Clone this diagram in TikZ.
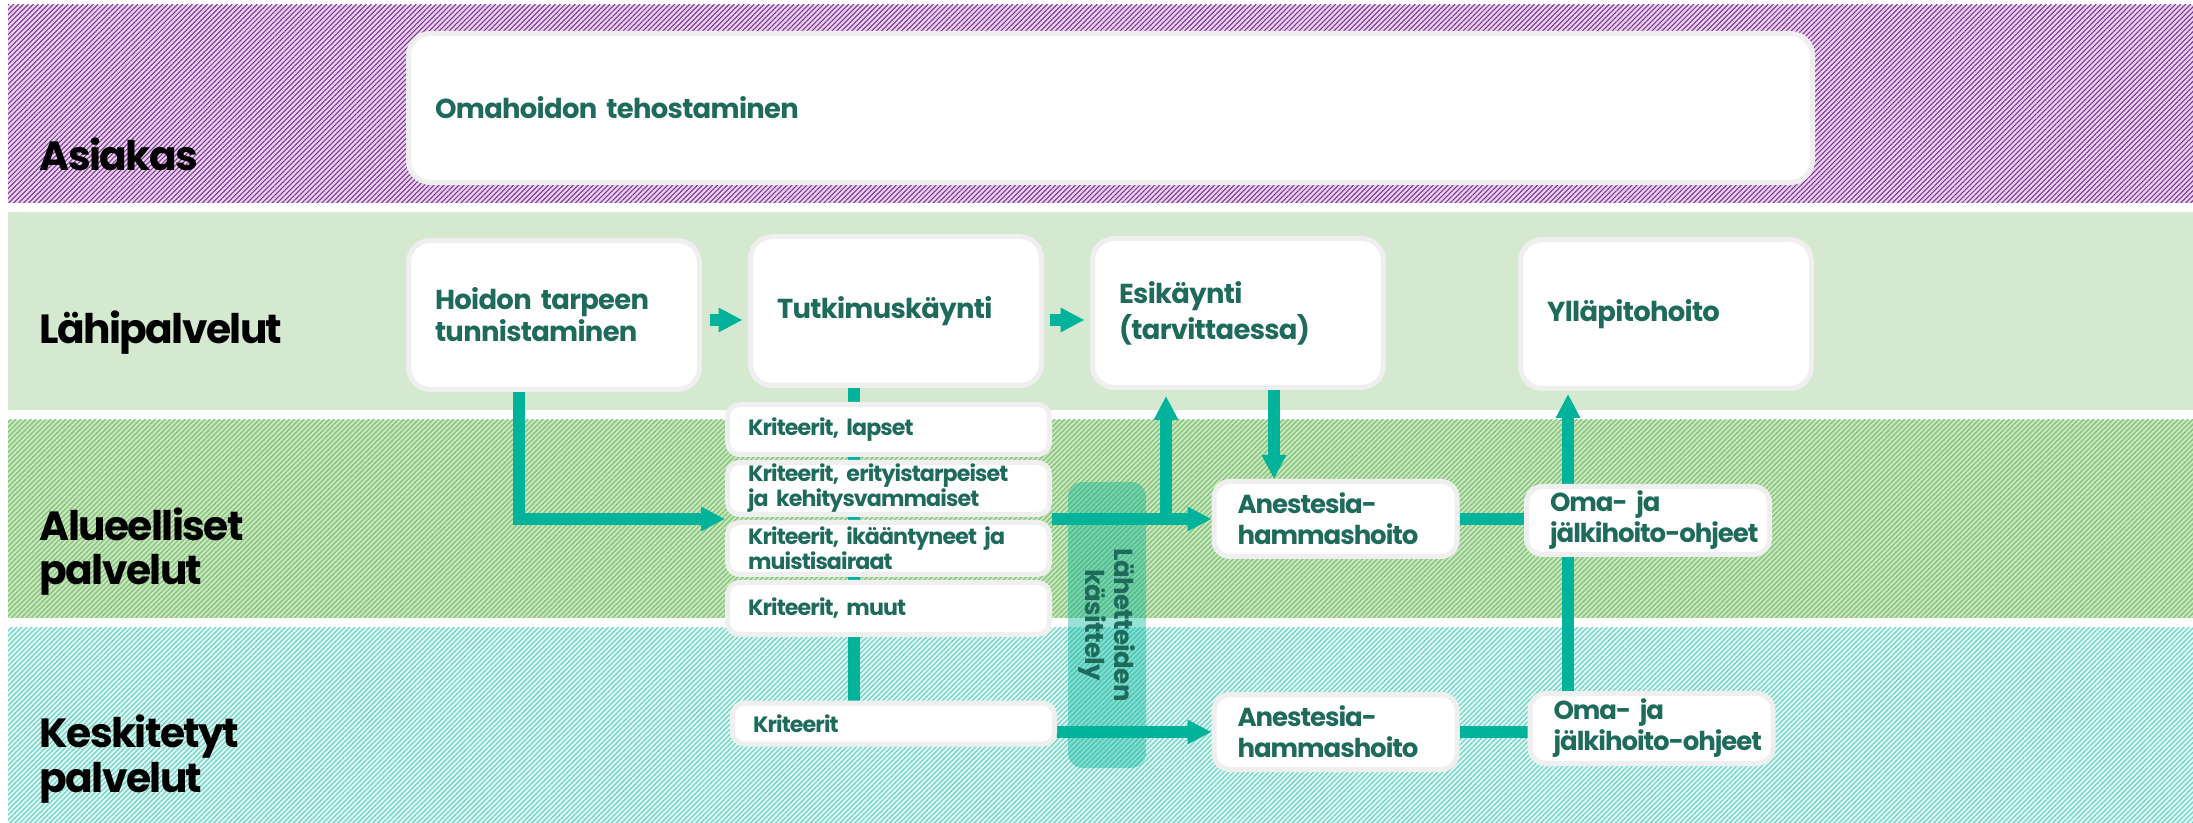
\documentclass[tikz,border=0pt]{standalone}
\usepackage{fontspec}
\setmainfont{Poppins}
\newfontfamily\lanefont{Poppins}[LetterSpace=-4]
\newfontfamily\boxfont{Poppins}[LetterSpace=-2.5]
\newfontfamily\tightfont{Poppins}[LetterSpace=-4]
\usepackage{xcolor}
\usepackage{tikz}
\usetikzlibrary{arrows.meta,patterns.meta}

\definecolor{ink}{HTML}{1E6B5C}
\definecolor{flowc}{HTML}{00B39A}
\definecolor{edge}{HTML}{EFEFEF}
\definecolor{lahi}{HTML}{D4E9CF}
\definecolor{asibg}{HTML}{E8D2EF}
\definecolor{asiln}{HTML}{7E3293}
\definecolor{aluebg}{HTML}{CDE8C5}
\definecolor{alueln}{HTML}{8BC77F}
\definecolor{keskbg}{HTML}{E0F7F3}
\definecolor{keskln}{HTML}{6DD5C6}

\pgfdeclarelayer{bands}
\pgfdeclarelayer{links}
\pgfsetlayers{bands,links,main}

\tikzset{
  lane/.style={font=\lanefont\bfseries\fontsize{11.6}{12.8}\selectfont, text=black, anchor=base west, align=left, inner sep=0pt},
  stage/.style={draw=edge, line width=0.5mm, fill=white, rounded corners=2.2mm, text=ink,
    font=\boxfont\bfseries\fontsize{7.8}{9.1}\selectfont, align=left, minimum height=14.9mm,
    text width=23.8mm, inner xsep=2.65mm, inner ysep=0pt},
  crit/.style={draw=edge, line width=0.5mm, fill=white, rounded corners=1.2mm, text=ink,
    font=\tightfont\bfseries\fontsize{6.3}{7.1}\selectfont, align=left, text width=28.1mm,
    inner xsep=2.05mm, inner ysep=0pt},
  care/.style={draw=edge, line width=0.5mm, fill=white, rounded corners=1.6mm, text=ink,
    font=\tightfont\bfseries\fontsize{7.4}{8.8}\selectfont, align=left, text width=19.6mm,
    inner xsep=2.35mm, inner ysep=0pt},
  flow/.style={draw=flowc, line width=1.15mm},
  tip/.style={-{Triangle[length=2.4mm,width=2.3mm]}},
}

\begin{document}
\begin{tikzpicture}[x=0.1mm,y=-0.1mm] % one unit = one pixel, y runs down
  \def\W{2193}
  \def\H{823}
  \useasboundingbox (0,0) rectangle (\W,\H);

  % Lanes
  \begin{pgfonlayer}{bands}
    \fill[asibg] (8,5) rectangle (\W,203);
    \fill[pattern={Lines[angle=45,distance=1pt,line width=0.3pt]}, pattern color=asiln] (8,5) rectangle (\W,203);
    \fill[lahi] (8,212) rectangle (\W,410);
    \fill[aluebg] (8,420) rectangle (\W,618);
    \fill[pattern={Lines[angle=45,distance=1pt,line width=0.45pt]}, pattern color=alueln] (8,420) rectangle (\W,618);
    \fill[keskbg] (8,628) rectangle (\W,\H);
    \fill[pattern={Lines[angle=45,distance=1pt,line width=0.35pt]}, pattern color=keskln] (8,628) rectangle (\W,\H);
  \end{pgfonlayer}

  % last line of each label sits on the given baseline
  \node[lane] (asi)  at (39,171) {Asiakas};
  \node[lane] (lahi) at (39,344) {Lähipalvelut};
  \node[lane] (alue) at (39,585) {Alueelliset\\palvelut};
  \node[lane] (kesk) at (39,792) {Keskitetyt\\palvelut};

  % Top row
  \node[stage, text width=135.1mm] (omah) at (1110.5,108) {Omahoidon tehostaminen};
  \node[stage] (hoid) at (554,315)  {Hoidon tarpeen\\tunnistaminen};
  \node[stage] (tutk) at (896,311)  {Tutkimuskäynti};
  \node[stage] (esi)  at (1238,313) {Esikäynti\\(tarvittaessa)};
  \node[stage] (yll)  at (1666,314) {Ylläpitohoito};

  % Criteria stack
  \node[crit, minimum height=5mm]   (kr1) at (888.5,429.5) {Kriteerit, lapset};
  \node[crit, minimum height=5.2mm] (kr2) at (888.5,488.5) {\mbox{Kriteerit, erityistarpeiset}\\ja kehitysvammaiset};
  \node[crit, minimum height=5.2mm] (kr3) at (888.5,548.5) {\mbox{Kriteerit, ikääntyneet ja}\\muistisairaat};
  \node[crit, minimum height=5.2mm] (kr4) at (888.5,608.5) {Kriteerit, muut};
  \node[crit, minimum height=4.1mm] (krk) at (893.5,723.5) {Kriteerit};

  % Care
  \node[care, minimum height=7.5mm] (ane)  at (1335.5,519) {Anestesia-\\hammashoito};
  \node[care, minimum height=6.8mm] (oma)  at (1648,520.5) {Oma- ja\\\mbox{jälkihoito-ohjeet}};
  \node[care, minimum height=7.5mm] (anek) at (1335.5,732) {Anestesia-\\hammashoito};
  \node[care, minimum height=7mm]   (omak) at (1651.5,728.5) {Oma- ja\\\mbox{jälkihoito-ohjeet}};

  % Referral handling (see-through)
  \node[fill=flowc, fill opacity=0.4, text opacity=1, text=ink, rounded corners=1.5mm, rotate=-90,
    minimum width=28.6mm, minimum height=7.8mm, inner sep=0pt, align=center,
    font=\boxfont\bfseries\fontsize{7.4}{8}\selectfont] (lah) at (1107,625) {Lähetteiden\\käsittely};

  % Connectors
  \coordinate (tx) at (854,0);
  \coordinate (hx) at (519,0);
  \coordinate (ux) at (1166,0);
  \coordinate (dx) at (1274,0);
  \coordinate (ox) at (1568,0);
  \coordinate (ry) at (0,519);
  \coordinate (ay) at (0,320);
  \begin{pgfonlayer}{links}
    \draw[flow,tip,shorten <=0.75mm,shorten >=0.55mm] (hoid.east |- ay) -- (tutk.west |- ay);
    \draw[flow,tip,shorten <=0.55mm,shorten >=0.55mm] (tutk.east |- ay) -- (esi.west |- ay);
    \draw[flow] (tutk.south -| tx) -- (krk.north -| tx);
    \draw[flow,tip] (hoid.south -| hx) |- (kr2.west |- ry);
    \draw[flow,tip] (kr2.east |- ry) -- (ane.west);
    \draw[flow,tip,shorten >=0.6mm] (ux |- ry) -- (esi.south -| ux);
    \draw[flow,tip] (esi.south -| dx) -- (ane.north -| dx);
    \draw[flow] (ane.east) -- (oma.west |- ane.east);
    \draw[flow,tip,shorten >=0.3mm] (oma.north -| ox) -- (yll.south -| ox);
    \draw[flow] (omak.north -| ox) -- (oma.south -| ox);
    \draw[flow,tip] (krk.east |- anek.west) -- (anek.west);
    \draw[flow] (anek.east) -- (omak.west |- anek.east);
  \end{pgfonlayer}
\end{tikzpicture}
\end{document}
